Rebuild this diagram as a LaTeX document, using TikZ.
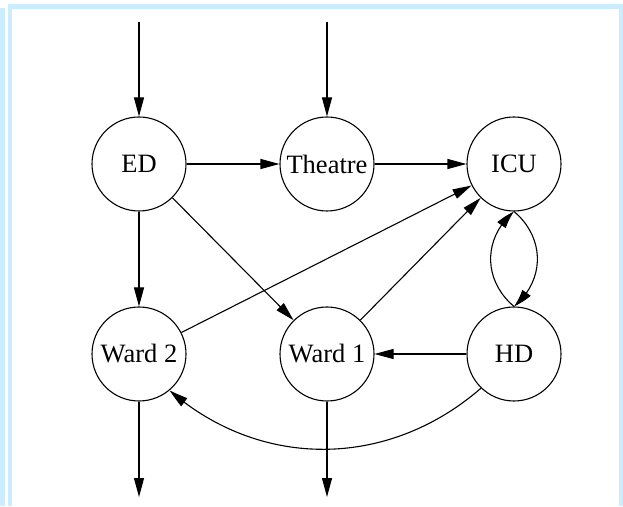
\documentclass[tikz,border=0pt]{standalone}
\usepackage{fontspec}
\setmainfont{Liberation Serif}
\usetikzlibrary{arrows.meta,bending}
\definecolor{framebl}{RGB}{204,236,255}

\begin{document}
\begin{tikzpicture}[x=1pt,y=1pt,unit/.style={draw,circle,line
        width=1.1pt,minimum size=94pt,inner sep=0pt,font=\fontsize{26.5}{30}\selectfont},
        flow/.style={-{Triangle[length=19pt,width=10pt]},line width=1.1pt},
        bentflow/.style={-{Triangle[length=19pt,width=10pt,bend]},line width=1.1pt}]

    % the frame

    \useasboundingbox (0,0) rectangle (623,506);
    \fill[framebl] (0,0) rectangle (5,498);
    \fill[framebl] (8,0) rectangle (12,502);
    \fill[framebl] (8,497) rectangle (623,502);
    \fill[framebl] (619,0) rectangle (623,502);

    % the units

    \node[unit] (ed) at (139,342) {ED};
    \node[unit] (theatre) at (327,342) {Theatre};
    \node[unit] (icu) at (514,342) {ICU};
    \node[unit] (wardtwo) at (139,152) {Ward 2};
    \node[unit] (wardone) at (327,152) {Ward 1};
    \node[unit] (hd) at (514,152) {HD};

    \coordinate (edin) at (139,484);
    \coordinate (theatrein) at (327,484);
    \coordinate (wardtwoout) at (139,9);
    \coordinate (wardoneout) at (327,9);

    % the flows

    \draw[flow] (edin) -- (ed);
    \draw[flow] (theatrein) -- (theatre);
    \draw[flow] (ed) -- (theatre);
    \draw[flow] (theatre) -- (icu);
    \draw[flow] (ed) -- (wardtwo);
    \draw[flow] (ed) -- (wardone);
    \draw[flow] (wardtwo) -- (icu);
    \draw[flow] (wardone) -- (icu);
    \draw[bentflow] (icu.south) to[out=-40,in=40,looseness=1.1] (hd.north);
    \draw[bentflow] (hd.north) to[out=140,in=-140,looseness=1.1] (icu.south);
    \draw[flow] (hd) -- (wardone);
    \draw[bentflow] (hd.-134) to[out=-139,in=-41] (wardtwo.-50);
    \draw[flow] (wardtwo) -- (wardtwoout);
    \draw[flow] (wardone) -- (wardoneout);
  \end{tikzpicture}
\end{document}
